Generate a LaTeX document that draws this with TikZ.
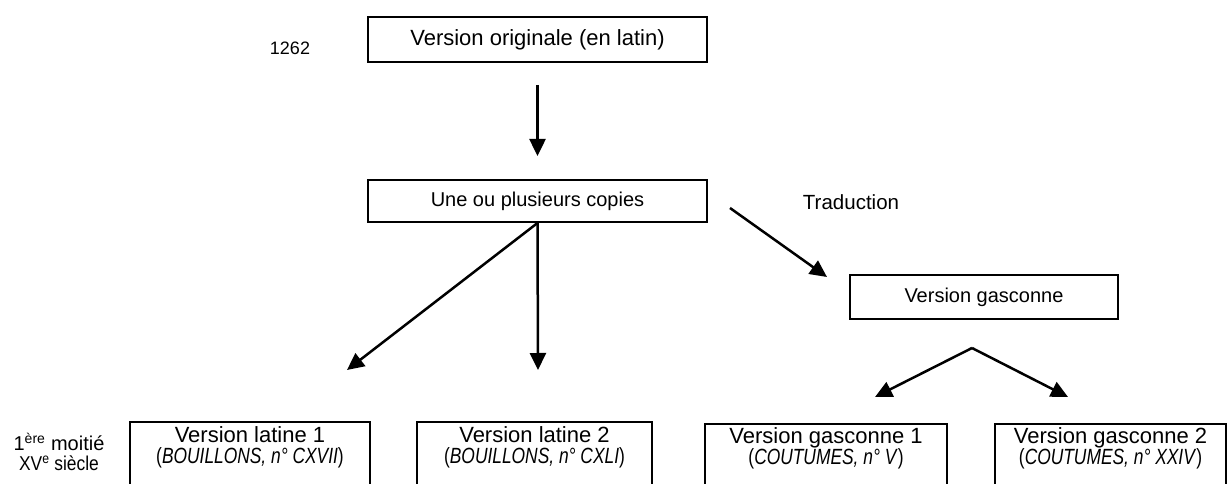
\documentclass[tikz,border=0pt]{standalone}
\usepackage{fontspec}
\usepackage{graphicx}
\setmainfont{Liberation Sans}
\usetikzlibrary{arrows.meta}
\tikzset{
  box/.style={draw, line width=2pt, rectangle, inner sep=0pt},
  arr/.style={line width=2.5pt, -{Triangle[length=17pt,width=16pt]}},
  bigtxt/.style={font=\fontsize{22}{21}\selectfont, align=center, inner sep=0pt},
  midtxt/.style={font=\fontsize{20}{22}\selectfont, align=center, inner sep=0pt},
}
\newcommand{\narrow}[1]{\scalebox{0.79}[1]{#1}}
\begin{document}
\begin{tikzpicture}[x=1pt,y=-1pt]
\clip (0,0) rectangle (1229,484);
\fill[white] (0,0) rectangle (1229,484);
% top
\node[box, minimum width=339, minimum height=45] (orig) at (537.5,39.5) {};
\node[bigtxt] (origt) at (orig.center) {Version originale (en latin)};
\node[inner sep=0pt, font=\fontsize{18}{20}\selectfont] (date1) at (290,48) {1262};
% copies
\node[box, minimum width=339, minimum height=42] (copies) at (537.5,201) {};
\node[midtxt] (copiest) at (copies.center) {Une ou plusieurs copies};
\node[inner sep=0pt, font=\fontsize{20.5}{22}\selectfont] (trad) at (851,202) {Traduction};
% gasconne
\node[box, minimum width=268, minimum height=44] (gasc) at (984,297) {};
\node[midtxt] (gasct) at (gasc.center) {Version gasconne};
% bottom boxes
\node[box, anchor=north, minimum width=240, minimum height=90] (lat1) at (250,421) {};
\node[box, anchor=north, minimum width=235, minimum height=90] (lat2) at (534.5,421) {};
\node[box, anchor=north, minimum width=242, minimum height=90] (gas1) at (826,423) {};
\node[box, anchor=north, minimum width=231, minimum height=90] (gas2) at (1110.5,423) {};
\node[bigtxt] (lat1t) at (250,447) {Version latine 1\\\narrow{(\textit{BOUILLONS, n° CXVII})}};
\node[bigtxt] (lat2t) at (534.5,447) {Version latine 2\\\narrow{(\textit{BOUILLONS, n° CXLI})}};
\node[bigtxt] (gas1t) at (826,448) {Version gasconne 1\\\narrow{(\textit{COUTUMES, n° V})}};
\node[bigtxt] (gas2t) at (1110.5,448) {Version gasconne 2\\\narrow{(\textit{COUTUMES, n° XXIV})}};
\node[inner sep=0pt, align=center, font=\fontsize{20}{20}\selectfont] (period) at (59,452)
  {1\textsuperscript{ère} moitié\\\scalebox{0.87}[1]{XV\textsuperscript{e} siècle}};
% connector coordinates
\coordinate (c1tip) at (347,370);
\coordinate (c2tip) at (538,370);
\coordinate (trs) at (730,208);
\coordinate (trt) at (827,277);
\coordinate (apex) at (972,348);
\coordinate (g1tip) at (875,397);
\coordinate (g2tip) at (1068,397);
% arrows
\draw[arr, shorten <=22pt, shorten >=23pt] (orig.south) -- (copies.north);
\draw[arr] (copies.south) -- (c1tip);
\draw[arr] (copies.south) -- (c2tip);
\draw[arr] (trs) -- (trt);
\draw[arr] (apex) -- (g1tip);
\draw[arr] (apex) -- (g2tip);
\end{tikzpicture}
\end{document}
